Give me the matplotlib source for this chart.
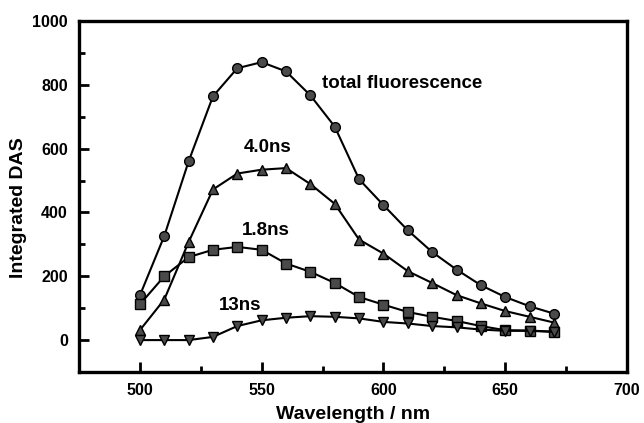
import matplotlib
matplotlib.use("Agg")
import matplotlib.pyplot as plt
from matplotlib.ticker import MultipleLocator

plt.rcParams['font.family'] = ['Liberation Sans', 'DejaVu Sans']
plt.rcParams['font.weight'] = 'bold'

wavelength = [500, 510, 520, 530, 540, 550, 560, 570, 580, 590,
              600, 610, 620, 630, 640, 650, 660, 670]
total = [140, 326, 560, 764, 852, 871, 842, 767, 669, 504,
         423, 344, 276, 221, 172, 135, 106, 83]
das_4_0 = [31, 127, 307, 472, 522, 534, 539, 489, 427, 315,
           271, 216, 179, 141, 115, 91, 73, 55]
das_1_8 = [112, 200, 260, 283, 292, 283, 240, 214, 179, 135,
           111, 88, 73, 60, 44, 31, 30, 26]
das_13 = [0, 0, 0, 10, 44, 62, 70, 75, 73, 68,
          57, 52, 44, 40, 33, 29, 29, 26]

fig = plt.figure(figsize=(6.44, 4.23), dpi=100)
ax = fig.add_axes([79/644, 1 - 372/423, 548/644, 351/423])

style = dict(color='black', lw=1.5, markerfacecolor='#4a4a4a',
             markeredgecolor='black', markeredgewidth=1.0)
ax.plot(wavelength, total, marker='o', ms=7, **style)
ax.plot(wavelength, das_4_0, marker='^', ms=7.5, **style)
ax.plot(wavelength, das_1_8, marker='s', ms=6.5, **style)
ax.plot(wavelength, das_13, marker='v', ms=7.5, **style)

fs_ann = 13.5
ax.text(574.6, 803, 'total fluorescence', fontsize=fs_ann, fontweight='bold', va='center')
ax.text(542.6, 603, '4.0ns', fontsize=fs_ann, fontweight='bold', va='center')
ax.text(541.8, 344, '1.8ns', fontsize=fs_ann, fontweight='bold', va='center')
ax.text(532.4, 109, '13ns', fontsize=fs_ann, fontweight='bold', va='center')

ax.set_xlim(475, 700)
ax.set_ylim(-100, 1000)
ax.xaxis.set_major_locator(MultipleLocator(50))
ax.xaxis.set_minor_locator(MultipleLocator(25))
ax.yaxis.set_major_locator(MultipleLocator(200))
ax.yaxis.set_minor_locator(MultipleLocator(100))
ax.tick_params(which='both', direction='in', width=2, labelsize=11.5)
ax.tick_params(which='major', length=7, pad=8)
ax.tick_params(which='minor', length=4)
for lab in ax.get_xticklabels() + ax.get_yticklabels():
    lab.set_fontweight('bold')
for s in ax.spines.values():
    s.set_linewidth(2.4)

ax.set_xlabel('Wavelength / nm', fontsize=14, fontweight='bold', labelpad=6)
ax.set_ylabel('Integrated DAS', fontsize=14, fontweight='bold')
ax.yaxis.set_label_coords(-0.094, 0.467)

fig.savefig('out.png', dpi=100)
